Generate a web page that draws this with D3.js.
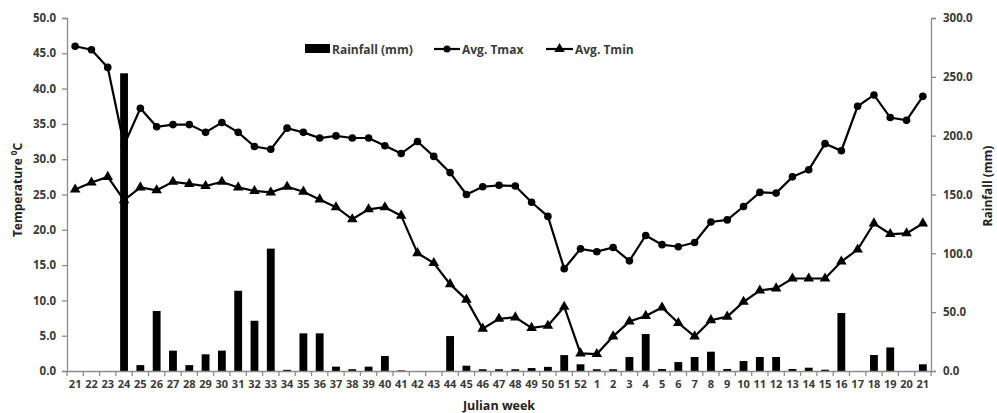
<!DOCTYPE html>
<html><head><meta charset="utf-8">
<script src="https://cdn.jsdelivr.net/npm/d3@7"></script>
<style>body{margin:0;background:#fff}svg{display:block}text{font-family:"Open Sans",Lato,sans-serif;font-weight:700}</style>
</head><body><svg id="c" width="997" height="413"></svg>
<script>
const weeks = [21,22,23,24,25,26,27,28,29,30,31,32,33,34,35,36,37,38,39,40,41,42,43,44,45,46,47,48,49,50,51,52,1,2,3,4,5,6,7,8,9,10,11,12,13,14,15,16,17,18,19,20,21];
const rainfall = [0,0,0,253,5,51,17.3,5,14.2,17.3,68.2,42.7,104,1,32,32,3.7,1.5,3.7,12.7,0.5,0,0,29.7,4.5,1.5,1.5,1.5,2.5,3.5,13.5,5.7,1.5,1.5,11.9,31.4,1.7,7.6,11.9,16.4,1.7,8.5,11.9,11.9,1.7,2.8,1.1,49.3,0,13.6,20,0,5.7];
const tmax = [46.0,45.5,43.0,32.0,37.2,34.6,34.9,34.9,33.8,35.2,33.8,31.8,31.4,34.4,33.8,33.0,33.3,33.0,33.0,31.9,30.8,32.5,30.4,28.1,25.0,26.1,26.3,26.2,23.9,21.9,14.5,17.3,16.9,17.5,15.6,19.2,17.9,17.6,18.2,21.1,21.4,23.3,25.3,25.2,27.5,28.5,32.2,31.2,37.5,39.1,35.9,35.5,38.9];
const tmin = [25.7,26.7,27.5,24.2,26.0,25.6,26.8,26.5,26.2,26.8,26.0,25.5,25.3,26.1,25.4,24.3,23.2,21.5,22.9,23.2,22.0,16.7,15.3,12.3,10.1,6.0,7.4,7.6,6.1,6.4,9.1,2.5,2.4,4.9,7.0,7.8,9.0,6.8,4.9,7.2,7.7,9.8,11.4,11.7,13.1,13.1,13.1,15.5,17.2,20.9,19.4,19.5,20.9];
const tempTicks = [0,5,10,15,20,25,30,35,40,45,50];
const rainTicks = [0,50,100,150,200,250,300];

const svg = d3.select("#c");
const L=67, R=931, T=18, B=371;
const idx = weeks.map((d,i)=>i);
const x = d3.scaleBand().domain(idx).range([L,R]).paddingInner(0).paddingOuter(0);
const yT = d3.scaleLinear().domain([0,50]).range([B,T]);
const yR = d3.scaleLinear().domain([0,300]).range([B,T]);
const axisCol="#8c8c8c", txtCol="#3a3a3a";

svg.append("g").selectAll("rect").data(rainfall).join("rect")
  .attr("x",(d,i)=>x(i)+x.bandwidth()*0.26).attr("width",x.bandwidth()*0.48)
  .attr("y",d=>yR(d)).attr("height",d=>B-yR(d)).attr("fill","#000");

function styleAxis(g){
  g.selectAll("path,line").attr("stroke",axisCol).attr("stroke-width",1.3);
  g.selectAll("text").attr("fill",txtCol).style("font-size","11.5px");
}
const gl = svg.append("g").attr("transform",`translate(${L},0)`)
  .call(d3.axisLeft(yT).tickValues(tempTicks).tickFormat(d3.format(".1f")).tickSizeOuter(0).tickSize(5).tickPadding(6));
styleAxis(gl);
const gr = svg.append("g").attr("transform",`translate(${R},0)`)
  .call(d3.axisRight(yR).tickValues(rainTicks).tickFormat(d3.format(".1f")).tickSizeOuter(0).tickSize(5).tickPadding(7));
styleAxis(gr);
const gb = svg.append("g").attr("transform",`translate(0,${B})`)
  .call(d3.axisBottom(x).tickFormat(i=>weeks[i]).tickSize(0).tickSizeOuter(0).tickPadding(9));
styleAxis(gb);
gb.selectAll("text").style("font-size","11px");
gb.select(".domain").attr("stroke",axisCol);
gb.selectAll("line.sep").data(d3.range(weeks.length+1)).join("line").attr("class","sep")
  .attr("x1",i=>L+i*x.step()).attr("x2",i=>L+i*x.step()).attr("y1",0).attr("y2",5)
  .attr("stroke",axisCol).attr("stroke-width",1.3);

const cx = i=>x(i)+x.bandwidth()/2;
const line = d3.line().x((d,i)=>cx(i)).y(d=>yT(d));
svg.append("path").datum(tmax).attr("d",line).attr("fill","none").attr("stroke","#000").attr("stroke-width",2.2);
svg.append("path").datum(tmin).attr("d",line).attr("fill","none").attr("stroke","#000").attr("stroke-width",2.2);
svg.append("g").selectAll("circle").data(tmax).join("circle")
  .attr("cx",(d,i)=>cx(i)).attr("cy",d=>yT(d)).attr("r",3.8).attr("fill","#000");
const tri = d3.symbol().type(d3.symbolTriangle).size(48);
svg.append("g").selectAll("path").data(tmin).join("path").attr("d",tri)
  .attr("transform",(d,i)=>`translate(${cx(i)},${yT(d)})`).attr("fill","#000");

const lg = svg.append("g").style("font-size","12px");
lg.append("rect").attr("x",305).attr("y",44).attr("width",25).attr("height",9).attr("fill","#000");
lg.append("text").attr("x",332).attr("y",53.5).text("Rainfall (mm)").attr("fill",txtCol);
lg.append("line").attr("x1",434).attr("x2",460).attr("y1",49).attr("y2",49).attr("stroke","#000").attr("stroke-width",2.2);
lg.append("circle").attr("cx",447).attr("cy",49).attr("r",3.5).attr("fill","#000");
lg.append("text").attr("x",462).attr("y",53.5).text("Avg. Tmax").attr("fill",txtCol);
lg.append("line").attr("x1",546).attr("x2",573).attr("y1",49).attr("y2",49).attr("stroke","#000").attr("stroke-width",2.2);
lg.append("path").attr("d",tri).attr("transform","translate(559.5,49)").attr("fill","#000");
lg.append("text").attr("x",575).attr("y",53.5).text("Avg. Tmin").attr("fill",txtCol);

const tl = svg.append("text").attr("transform",`translate(22,190) rotate(-90)`).attr("text-anchor","middle")
  .style("font-size","12px").attr("fill","#222");
tl.append("tspan").text("Temperature ");
tl.append("tspan").text("0").attr("dy",-5).style("font-size","8px");
tl.append("tspan").text("C").attr("dy",5);
svg.append("text").attr("transform",`translate(992,186) rotate(-90)`).attr("text-anchor","middle")
  .style("font-size","12px").attr("fill","#222").text("Rainfall (mm)");
svg.append("text").attr("x",499).attr("y",410).attr("text-anchor","middle")
  .style("font-size","12.5px").attr("fill","#222").text("Julian week");
</script></body></html>
